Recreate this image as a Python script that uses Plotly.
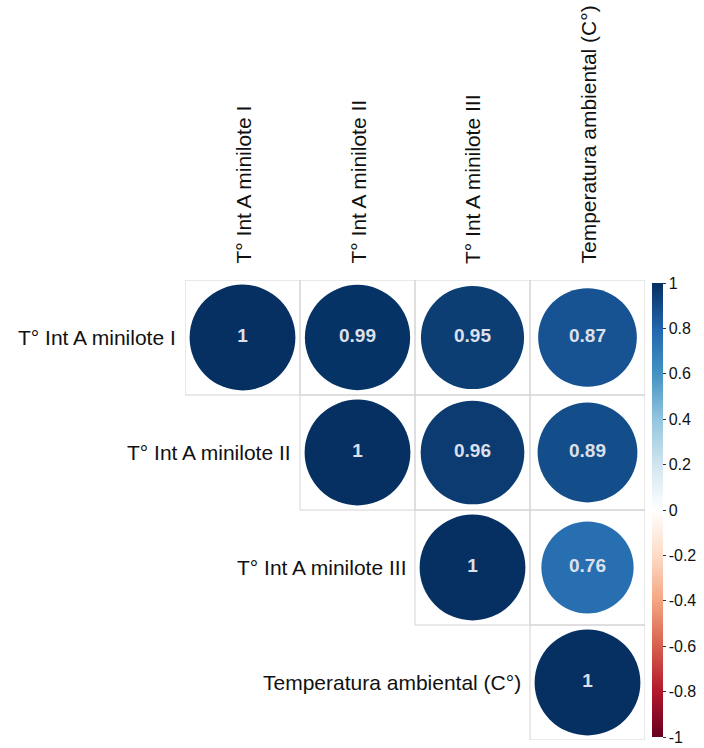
import numpy as np
import plotly.graph_objects as go

# Variables and their correlation matrix (upper triangle shown)
variables = [
    "T° Int A minilote I",
    "T° Int A minilote II",
    "T° Int A minilote III",
    "Temperatura ambiental (C°)",
]
corr = [
    [1.00, 0.99, 0.95, 0.87],
    [0.99, 1.00, 0.96, 0.89],
    [0.95, 0.96, 1.00, 0.76],
    [0.87, 0.89, 0.76, 1.00],
]
cbar_ticks = [1, 0.8, 0.6, 0.4, 0.2, 0, -0.2, -0.4, -0.6, -0.8, -1]

# corrplot-style RdBu palette from -1 to 1
rdbu = ["#67001F", "#B2182B", "#D6604D", "#F4A582", "#FDDBC7", "#FFFFFF",
        "#D1E5F0", "#92C5DE", "#4393C3", "#2166AC", "#053061"]
colorscale = [[i / (len(rdbu) - 1), c] for i, c in enumerate(rdbu)]

W, H = 704, 748
ML, MR, MT, MB = 185, 59, 280, 8
n = len(variables)
plot_px = W - ML - MR
cell_px = plot_px / n

xs, ys, vals, sizes, labels = [], [], [], [], []
for i in range(n):
    for j in range(i, n):
        v = corr[i][j]
        xs.append(j + 1)
        ys.append(i + 1)
        vals.append(v)
        # circle area proportional to |r|
        sizes.append(cell_px * 0.92 * np.sqrt(abs(v)))
        labels.append(f"{v:g}")

fig = go.Figure()
fig.add_trace(go.Scatter(
    x=xs, y=ys, mode="markers+text",
    marker=dict(
        size=sizes, sizemode="diameter", color=vals,
        colorscale=colorscale, cmin=-1, cmax=1, line=dict(width=0),
        opacity=1,
        colorbar=dict(
            x=1 + 7 / plot_px, xanchor="left", xpad=0,
            y=0.5, yanchor="middle", ypad=2,
            lenmode="pixels", len=458, thickness=11, outlinewidth=0,
            tickmode="array", tickvals=cbar_ticks,
            ticktext=[f"{t:g}" for t in cbar_ticks],
            ticks="outside", ticklen=3, tickcolor="#333",
            tickfont=dict(family="Liberation Sans, Arial", size=16, color="#111"),
        ),
    ),
    text=labels, textposition="middle center",
    textfont=dict(family="Liberation Sans, Arial", size=19, color="#dde0ea", weight="bold"),
    hoverinfo="skip", showlegend=False,
))

# Grid cells of the upper triangle
for i in range(n):
    for j in range(i, n):
        fig.add_shape(type="rect", xref="x", yref="y",
                      x0=j + 0.5, x1=j + 1.5, y0=i + 0.5, y1=i + 1.5,
                      line=dict(color="#d4d4d4", width=1), layer="below")

lab_font = dict(family="Liberation Sans, Arial", size=21, color="#111")
# Row labels next to the diagonal
for i, name in enumerate(variables):
    fig.add_annotation(x=i + 0.5, y=i + 1, xref="x", yref="y", text=name,
                       showarrow=False, xanchor="right", yanchor="middle",
                       xshift=-7, font=lab_font)
# Column labels above the grid, rotated
for j, name in enumerate(variables):
    fig.add_annotation(x=j + 1, y=1, xref="x", yref="paper", text=name,
                       showarrow=False, textangle=-90, xanchor="center",
                       yanchor="bottom", yshift=14, font=lab_font)

fig.update_layout(
    width=W, height=H,
    margin=dict(l=ML, r=MR, t=MT, b=MB, autoexpand=False),
    paper_bgcolor="white", plot_bgcolor="white",
    xaxis=dict(range=[0.5, n + 0.5], visible=False, fixedrange=True),
    yaxis=dict(range=[n + 0.5, 0.5], visible=False, fixedrange=True),
)

fig.write_html("out.html")
